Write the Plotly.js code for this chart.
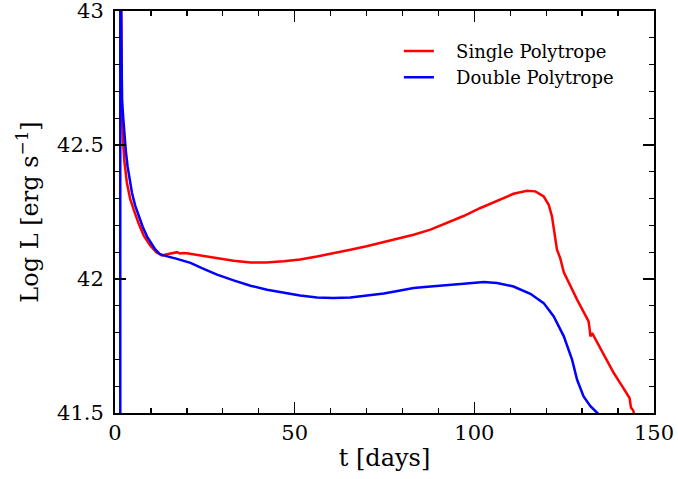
<!DOCTYPE html>
<html>
<head>
<meta charset="utf-8">
<script src="https://cdn.plot.ly/plotly-3.0.1.min.js"></script>
<style>html,body{margin:0;padding:0;background:#fff;}#chart{width:678px;height:479px;}</style>
</head>
<body>
<div id="chart"></div>
<script>
// Single Polytrope (red)
const singleT = [1.6, 1.75, 1.95, 2.2, 2.6, 3.3, 4.2, 5.2, 6.5, 8.0, 9.8, 11.5, 13.0, 14.5, 16.0, 17.3, 18.0, 19.0, 20.0, 24.0, 28.4, 33.0, 37.7, 42.0, 46.9, 51.5, 56.2, 61.0, 65.5, 70.0, 74.8, 79.4, 83.1, 87.8, 92.4, 97.0, 101.7, 106.3, 110.9, 114.7, 117.0, 119.3, 120.7, 121.6, 122.3, 123.0, 123.9, 124.7, 124.9, 128.6, 131.8, 132.1, 132.3, 132.8, 135.8, 138.8, 141.0, 143.2, 143.6, 144.2, 144.6];
const singleL = [43.3, 42.95, 42.62, 42.52, 42.44, 42.36, 42.30, 42.259, 42.21, 42.162, 42.125, 42.1, 42.088, 42.092, 42.095, 42.1, 42.095, 42.097, 42.096, 42.088, 42.078, 42.068, 42.062, 42.062, 42.066, 42.073, 42.084, 42.096, 42.109, 42.122, 42.137, 42.153, 42.165, 42.184, 42.209, 42.235, 42.265, 42.29, 42.318, 42.329, 42.327, 42.308, 42.277, 42.234, 42.172, 42.109, 42.078, 42.041, 42.025, 41.923, 41.842, 41.811, 41.786, 41.798, 41.724, 41.649, 41.603, 41.556, 41.52, 41.51, 41.49];

// Double Polytrope (blue)
const doubleT = [1.47, 1.47, 1.55, 1.7, 1.95, 2.3, 2.59, 3.0, 3.5, 4.1, 4.73, 5.6, 6.57, 7.7, 8.9, 10.0, 11.2, 12.4, 13.5, 17.0, 21.0, 24.5, 28.4, 33.0, 37.7, 42.3, 46.9, 51.5, 56.2, 60.8, 65.5, 70.1, 74.8, 79.4, 83.1, 87.8, 92.4, 97.0, 102.6, 106.3, 110.9, 115.6, 119.3, 122.1, 124.9, 127.2, 128.6, 130.4, 132.3, 134.1, 135.0];
const doubleL = [41.3, 43.6, 43.3, 43.0, 42.669, 42.6, 42.545, 42.48, 42.42, 42.365, 42.321, 42.275, 42.234, 42.195, 42.159, 42.135, 42.11, 42.094, 42.088, 42.076, 42.06, 42.039, 42.016, 41.995, 41.975, 41.96, 41.948, 41.938, 41.931, 41.929, 41.931, 41.938, 41.946, 41.957, 41.966, 41.972, 41.976, 41.982, 41.989, 41.985, 41.972, 41.945, 41.91, 41.86, 41.786, 41.699, 41.624, 41.562, 41.525, 41.5, 41.49];

const seriesNames = ["Single Polytrope", "Double Polytrope"];
const xTickVals = [0, 50, 100, 150];
const yTickVals = [41.5, 42, 42.5, 43];
const yTickText = ["41.5", "42", "42.5", "43"];
const xTitle = "t [days]";
const yTitle = "Log L [erg s<sup>\u22121</sup>]";

const serif = "DejaVu Serif, serif";
const pad = "\u00a0\u00a0\u00a0";
const traces = [
  {x: singleT, y: singleL, name: pad + seriesNames[0], mode: "lines", legendgroup: "a",
   line: {color: "#ff0000", width: 2.5}},
  {x: doubleT, y: doubleL, name: pad + seriesNames[1], mode: "lines", legendgroup: "b",
   line: {color: "#0000ff", width: 2.5}}
];

const axisCommon = {
  showgrid: false, zeroline: false, showline: true, linecolor: "#000", linewidth: 2,
  mirror: "ticks", ticks: "inside", ticklen: 11, tickwidth: 1.3, tickcolor: "#000",
  ticklabeloverflow: "allow",
  tickfont: {family: serif, size: 21, color: "#000"}
};

const layout = {
  width: 678, height: 479,
  margin: {l: 115, r: 24, t: 11, b: 66},
  paper_bgcolor: "#fff", plot_bgcolor: "#fff",
  showlegend: true,
  legend: {x: 0.5267, y: 0.946, xanchor: "left", yanchor: "top", bgcolor: "rgba(0,0,0,0)",
           borderwidth: 0, tracegroupgap: 0, itemwidth: 30,
           font: {family: serif, size: 18, color: "#000"}},
  xaxis: Object.assign({}, axisCommon, {
    range: [-0.0001, 150.0001], tickvals: xTickVals, ticklabelstandoff: 0,
    minor: {dtick: 10, ticks: "inside", ticklen: 5, tickwidth: 1.3, tickcolor: "#000", showgrid: false},
    title: {text: xTitle, font: {family: serif, size: 24, color: "#000"}, standoff: 5}
  }),
  yaxis: Object.assign({}, axisCommon, {
    range: [41.4999, 43.0001], tickvals: yTickVals, ticktext: yTickText,
    ticklabelstandoff: 5,
    minor: {dtick: 0.1, ticks: "inside", ticklen: 5, tickwidth: 1.3, tickcolor: "#000", showgrid: false},
    title: {text: yTitle, font: {family: serif, size: 24, color: "#000"}, standoff: 12}
  })
};

Plotly.newPlot("chart", traces, layout, {staticPlot: true, displayModeBar: false});
</script>
</body>
</html>
